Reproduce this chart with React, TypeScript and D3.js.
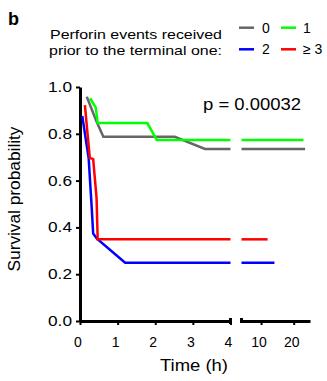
import React, { useRef, useEffect } from "react"
import * as d3 from "d3"

const yTicks = [0, 0.2, 0.4, 0.6, 0.8, 1.0]
const xTicksNear = [0, 1, 2, 3, 4]
const xTicksFar = [10, 20]

const groups = ["0", "1", "2", "≥ 3"]
const colors = ["#666666", "#00ff00", "#0000ff", "#ff0000"]

// [time (h), survival probability]
const curve0 = [[0.18, 0.958], [0.44, 0.852], [0.62, 0.787], [2.52, 0.787], [3.32, 0.735], [4, 0.735], [23.5, 0.735]]
const curve1 = [[0.27, 0.952], [0.42, 0.912], [0.47, 0.846], [1.79, 0.846], [2.04, 0.774], [4, 0.774], [23.0, 0.774]]
const curve2 = [[0.06, 0.876], [0.23, 0.696], [0.31, 0.488], [0.35, 0.374], [0.45, 0.352], [1.2, 0.249], [4, 0.249], [14.1, 0.249]]
const curve3 = [[0.13, 0.923], [0.26, 0.697], [0.35, 0.692], [0.44, 0.526], [0.47, 0.349], [4, 0.349], [12.0, 0.349]]
const curves = [curve0, curve1, curve2, curve3]

const pValue = "p = 0.00032"
const FONT = "'Liberation Sans', Arial, Helvetica, sans-serif"

export default function App() {
    const ref = useRef(null)

    useEffect(() => {
        const svg = d3.select(ref.current)
        svg.selectAll("*").remove()

        const y = d3.scaleLinear().domain([0, 1]).range([321, 87])
        const xNear = d3.scaleLinear().domain([0, 4]).range([80, 230.5])
        const xFar = d3.scaleLinear().domain([4, 25]).range([241.5, 310])
        const base = y(0)

        // y axis
        const gy = svg.append("g")
            .attr("transform", "translate(80,0)")
            .call(d3.axisLeft(y).tickValues(yTicks).tickFormat(d3.format(".1f")).tickSize(4).tickSizeOuter(0).tickPadding(4))
        gy.select(".domain").attr("stroke-width", 3)
        gy.selectAll(".tick line").attr("stroke-width", 2)
        gy.selectAll(".tick text")
            .attr("font-family", FONT).attr("font-size", 14).attr("fill", "#000")
            .attr("textLength", 24).attr("lengthAdjust", "spacingAndGlyphs")

        // x axis, two pieces
        const gx1 = svg.append("g")
            .attr("transform", `translate(0,${base})`)
            .call(d3.axisBottom(xNear).tickValues(xTicksNear).tickFormat(d3.format("d")).tickSize(4).tickSizeOuter(0).tickPadding(12))
        const gx2 = svg.append("g")
            .attr("transform", `translate(0,${base})`)
            .call(d3.axisBottom(xFar).tickValues(xTicksFar).tickFormat(d3.format("d")).tickSize(4).tickSizeOuter(0).tickPadding(12))
        ;[gx1, gx2].forEach(g => {
            g.select(".domain").attr("stroke-width", 3)
            g.selectAll(".tick line").attr("stroke-width", 2)
            g.selectAll(".tick text")
                .attr("font-family", FONT).attr("font-size", 14).attr("fill", "#000").attr("dx", -2.5)
        })
        // end caps at the break
        svg.append("line").attr("x1", xNear(4)).attr("x2", xNear(4)).attr("y1", base - 3).attr("y2", base + 3)
            .attr("stroke", "#000").attr("stroke-width", 3)
        svg.append("line").attr("x1", xFar(4)).attr("x2", xFar(4)).attr("y1", base - 3).attr("y2", base + 2)
            .attr("stroke", "#000").attr("stroke-width", 3)

        // curves
        const lineNear = d3.line().x(d => xNear(d[0])).y(d => y(d[1]))
        const lineFar = d3.line().x(d => xFar(d[0])).y(d => y(d[1]))
        curves.forEach((c, i) => {
            const near = c.filter(d => d[0] <= 4)
            const far = c.filter(d => d[0] >= 4)
            svg.append("path").attr("d", lineNear(near))
                .attr("fill", "none").attr("stroke", colors[i]).attr("stroke-width", 2.5)
            svg.append("path").attr("d", lineFar(far))
                .attr("fill", "none").attr("stroke", colors[i]).attr("stroke-width", 2.5)
        })

        // titles
        svg.append("text").attr("x", 194).attr("y", 371).attr("text-anchor", "middle")
            .attr("font-family", FONT).attr("font-size", 16)
            .attr("textLength", 68).attr("lengthAdjust", "spacingAndGlyphs")
            .text("Time (h)")
        svg.append("text").attr("transform", "translate(20,199) rotate(-90)").attr("text-anchor", "middle")
            .attr("font-family", FONT).attr("font-size", 16)
            .attr("textLength", 145).attr("lengthAdjust", "spacingAndGlyphs")
            .text("Survival probability")
        svg.append("text").attr("x", 203).attr("y", 110)
            .attr("font-family", FONT).attr("font-size", 16)
            .attr("textLength", 98).attr("lengthAdjust", "spacingAndGlyphs")
            .text(pValue)
        svg.append("text").attr("x", 8).attr("y", 25)
            .attr("font-family", FONT).attr("font-size", 18).attr("font-weight", "bold")
            .text("b")

        // legend
        svg.append("text").attr("x", 222).attr("y", 38.7).attr("text-anchor", "end")
            .attr("font-family", FONT).attr("font-size", 13.5)
            .attr("textLength", 172).attr("lengthAdjust", "spacingAndGlyphs")
            .text("Perforin events received")
        svg.append("text").attr("x", 222).attr("y", 55).attr("text-anchor", "end")
            .attr("font-family", FONT).attr("font-size", 13.5)
            .attr("textLength", 173).attr("lengthAdjust", "spacingAndGlyphs")
            .text("prior to the terminal one:")

        const legend = svg.append("g").selectAll("g")
            .data(groups)
            .enter().append("g")
            .attr("transform", (d, i) => `translate(${239 + (i % 2) * 42},${i < 2 ? 27.7 : 49.3})`)
        legend.append("line").attr("x1", 0).attr("x2", 15)
            .attr("stroke", (d, i) => colors[i]).attr("stroke-width", 2.5)
        legend.append("text").attr("x", (d, i) => (i % 2 ? 64 - 42 : 23)).attr("y", 4.8)
            .attr("font-family", FONT).attr("font-size", 14)
            .text(d => d)
    }, [])

    return (
        <svg ref={ref} width={327} height={381}
            style={{ position: "absolute", left: 0, top: 0, background: "#fff" }} />
    )
}
